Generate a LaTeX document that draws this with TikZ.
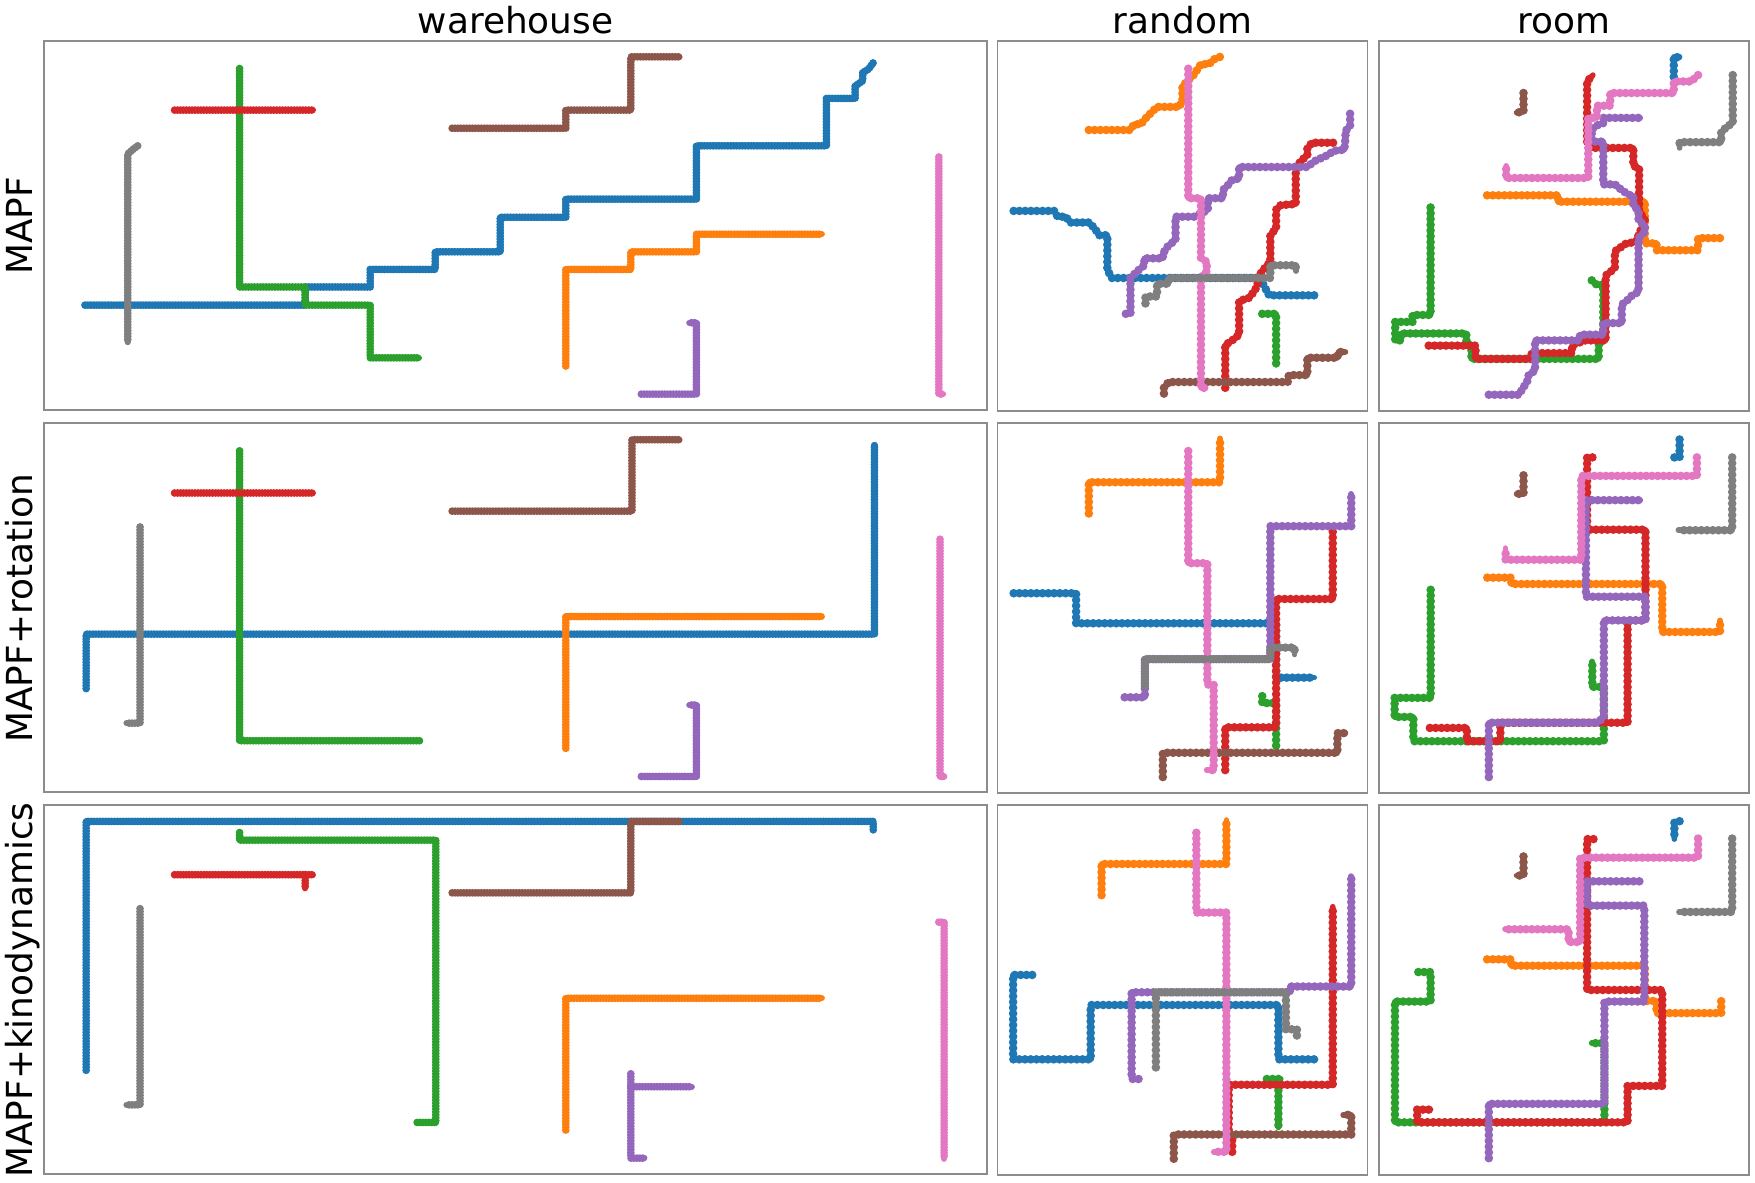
\documentclass[tikz,border=0pt]{standalone}
\usepackage{fontspec}
\setmainfont{DejaVu Sans}
\usepackage{tikz}

\definecolor{tabblue}{HTML}{1F77B4}
\definecolor{taborange}{HTML}{FF7F0E}
\definecolor{tabgreen}{HTML}{2CA02C}
\definecolor{tabred}{HTML}{D62728}
\definecolor{tabpurple}{HTML}{9467BD}
\definecolor{tabbrown}{HTML}{8C564B}
\definecolor{tabpink}{HTML}{E377C2}
\definecolor{tabgray}{HTML}{7F7F7F}

\tikzset{
  wpath/.style={draw=#1, line width=2.2pt, line cap=round, line join=round,
    dash pattern=on 0pt off 0.83pt,
    preaction={draw=#1, line width=1.8pt, solid, line cap=round, line join=round}},
  gpath/.style={draw=#1, line width=2.45pt, line cap=round, line join=round,
    dash pattern=on 0pt off 1.64pt,
    preaction={draw=#1, line width=1.6pt, solid, line cap=round, line join=round}},
  frame/.style={draw=black!45, line width=0.5pt},
  label text/.style={font=\fontsize{10.2pt}{12pt}\selectfont, anchor=base, inner sep=0pt}
}

\begin{document}
\begin{tikzpicture}
\useasboundingbox (0,0) rectangle (17.55,11.82);

% Titles
\node[label text] (tw) at (5.155,11.49) {warehouse};
\node[label text] (tr) at (11.825,11.49) {random};
\node[label text] (tm) at (15.64,11.49) {room};
\node[label text, rotate=90] (l1) at (0.33,9.56) {MAPF};
\node[label text, rotate=90] (l2) at (0.33,5.737) {MAPF+rotation};
\node[label text, rotate=90] (l3) at (0.33,1.92) {MAPF+kinodynamics};

% warehouse, MAPF
\begin{scope}[shift={(0.44,11.41)}, x=0.05857cm, y=-0.05857cm]
  \draw[wpath=tabblue] (7,45.1) -- (44.6,45.1) -- (44.6,42) -- (55.7,42) -- (55.7,39) -- (66.8,39) -- (66.8,36) -- (77.9,36) -- (77.9,30.1) -- (89.1,30.1) -- (89.1,27) -- (111.4,27) -- (111.4,17.9) -- (133.6,17.9) -- (133.6,9.8) -- (138.5,9.8) -- (138.5,7.7) -- (139.8,6.8) -- (139.8,5.4) -- (140.8,4.8) -- (141.6,3.7);
  \draw[wpath=taborange] (89.1,55.5) -- (89.1,39) -- (100.2,39) -- (100.2,36) -- (111.4,36) -- (111.4,33) -- (132.8,33);
  \draw[wpath=tabgreen] (33.4,4.7) -- (33.4,42) -- (44.6,42) -- (44.6,45.1) -- (55.7,45.1) -- (55.7,54.1) -- (64,54.1);
  \draw[wpath=tabred] (22.3,11.8) -- (45.9,11.8);
  \draw[wpath=tabpurple] (102,60.3) -- (111.4,60.3) -- (111.4,48.1) -- (110.2,48.1);
  \draw[wpath=tabbrown] (69.7,14.9) -- (89.1,14.9) -- (89.1,11.8) -- (100.2,11.8) -- (100.2,2.7) -- (108.5,2.7);
  \draw[wpath=tabpink] (152.8,19.8) -- (152.8,60.3) -- (153.5,60.3);
  \draw[wpath=tabgray] (16,17.9) -- (15.2,18.5) -- (14.3,19.3) -- (14.3,51.4);
  \draw[frame] (0,0) rectangle (161,63);
\end{scope}

% warehouse, MAPF+rotation
\begin{scope}[shift={(0.44,7.587)}, x=0.05857cm, y=-0.05857cm]
  \draw[wpath=tabblue] (7.2,45.3) -- (7.2,36) -- (141.8,36) -- (141.8,3.7);
  \draw[wpath=taborange] (89.1,55.5) -- (89.1,33) -- (132.8,33);
  \draw[wpath=tabgreen] (33.4,4.7) -- (33.4,54.2) -- (64.2,54.2);
  \draw[wpath=tabred] (22.3,11.9) -- (45.9,11.9);
  \draw[wpath=tabpurple] (102,60.3) -- (111.4,60.3) -- (111.4,48.1) -- (110.2,48.1);
  \draw[wpath=tabbrown] (69.7,15) -- (100.4,15) -- (100.4,2.8) -- (108.5,2.8);
  \draw[wpath=tabpink] (153,19.8) -- (153,60.3) -- (153.7,60.3);
  \draw[wpath=tabgray] (16.4,17.7) -- (16.4,51.2) -- (14.1,51.2);
  \draw[frame] (0,0) rectangle (161,63);
\end{scope}

% warehouse, MAPF+kinodynamics
\begin{scope}[shift={(0.44,3.77)}, x=0.05857cm, y=-0.05857cm]
  \draw[wpath=tabblue] (7.2,45.3) -- (7.2,2.8) -- (141.6,2.8) -- (141.6,4.3);
  \draw[wpath=taborange] (89.1,55.5) -- (89.1,33) -- (132.8,33);
  \draw[wpath=tabgreen] (33.4,4.7) -- (33.4,6) -- (66.9,6) -- (66.9,54.2) -- (63.7,54.2);
  \draw[wpath=tabred] (22.3,11.9) -- (45.9,11.9) (44.6,11.9) -- (44.6,14.2);
  \draw[wpath=tabpurple] (100.2,45.9) -- (100.2,60.3) -- (102.5,60.3) (100.2,48.1) -- (110.6,48.1);
  \draw[wpath=tabbrown] (69.7,15) -- (100.2,15) -- (100.2,2.8) -- (108.5,2.8);
  \draw[wpath=tabpink] (152.8,20) -- (153.7,20) -- (153.7,60.4);
  \draw[wpath=tabgray] (16.4,17.7) -- (16.4,51.2) -- (14.1,51.2);
  \draw[frame] (0,0) rectangle (161,63);
\end{scope}

% random, MAPF
\begin{scope}[shift={(9.975,11.41)}, x=0.1156cm, y=-0.1156cm]
  \draw[gpath=tabblue] (1.4,14.7) -- (4.9,14.7) -- (5.2,15.2) -- (5.9,15.2) -- (6.3,15.7) -- (7.9,15.7) -- (8.4,16.2) -- (8.8,16.8) -- (9.5,16.8) -- (9.5,19.8) -- (9.9,20.5) -- (22.8,20.5) -- (23,21.1) -- (23.5,22) -- (27.4,22);
  \draw[gpath=taborange] (7.9,7.7) -- (11.5,7.7) -- (11.8,7.2) -- (12.4,7.2) -- (12.8,6.7) -- (13.3,6.2) -- (13.8,5.7) -- (15.7,5.7) -- (16,5.2) -- (16,3.9) -- (17,2.9) -- (17.6,2) -- (18.3,2) -- (18.7,1.6) -- (19.3,1.35);
  \draw[gpath=tabgreen] (22.9,23.6) -- (24.1,23.6) -- (24.1,28);
  \draw[gpath=tabred] (19.7,30) -- (19.7,26.3) -- (20.3,25.9) -- (20.9,25.4) -- (20.9,22.5) -- (21.8,22.2) -- (22.3,21.5) -- (22.5,21) -- (22.5,20.5) -- (22.9,19.9) -- (23.6,19.1) -- (23.6,16.8) -- (24.1,16.2) -- (24.1,14.6) -- (24.5,14.2) -- (25.8,14.1) -- (25.8,11.2) -- (26.2,10.4) -- (26.8,9.9) -- (26.8,9.3) -- (27.2,8.8) -- (29.1,8.8);
  \draw[gpath=tabpurple] (11.1,23.6) -- (11.5,23.6) -- (11.5,20.5) -- (12.1,19.9) -- (12.7,19.4) -- (12.7,18.8) -- (14.3,18.8) -- (14.3,18.4) -- (14.7,17.8) -- (15.4,17.2) -- (15.4,15.2) -- (17.1,15.2) -- (18.2,14.6) -- (18.2,13.6) -- (19.5,13.6) -- (19.5,12.9) -- (20,12.4) -- (20.3,12) -- (20.9,11.9) -- (20.9,10.9) -- (26.8,10.9) -- (27.4,10.4) -- (28.5,9.9) -- (29.1,9.5) -- (30,9.4) -- (30.1,8.4) -- (30.1,7.8) -- (30.5,7.3) -- (30.5,6.2);
  \draw[gpath=tabbrown] (14.4,30.5) -- (14.4,30) -- (14.8,29.5) -- (25.1,29.5) -- (25.2,28.9) -- (26.8,28.9) -- (26.8,27.4) -- (29.4,27.4) -- (29.5,26.9) -- (30.1,26.9);
  \draw[gpath=tabpink] (16.5,2.4) -- (16.5,13.6) -- (17.6,13.6) -- (17.6,18.8) -- (18.1,19.1) -- (18.1,19.9) -- (17.6,20.5) -- (17.6,30) -- (18,30);
  \draw[gpath=tabgray] (12.8,22.7) -- (12.8,22.1) -- (13.8,22.1) -- (13.8,21) -- (14.8,21) -- (14.8,20.5) -- (23.6,20.5) -- (23.6,19.4) -- (25.8,19.4) -- (25.8,19.9);
  \draw[frame] (0,0) rectangle (32,32);
\end{scope}

% random, MAPF+rotation
\begin{scope}[shift={(9.975,7.587)}, x=0.1156cm, y=-0.1156cm]
  \draw[gpath=tabblue] (1.4,14.7) -- (6.8,14.7) -- (6.8,17.3) -- (24.1,17.3) -- (24.1,22) -- (27.4,22);
  \draw[gpath=taborange] (7.9,7.8) -- (7.9,5.1) -- (19.25,5.1) -- (19.25,1.3);
  \draw[gpath=tabgreen] (22.9,23.6) -- (22.9,24.2) -- (24.1,24.2) -- (24.1,27.9);
  \draw[gpath=tabred] (19.7,30) -- (19.7,26.3) -- (24.1,26.3) -- (24.1,15.2) -- (29,15.2) -- (29,9.2);
  \draw[gpath=tabpurple] (11,23.7) -- (12.75,23.7) -- (12.75,20.4) -- (23.6,20.4) -- (23.6,8.9) -- (30.6,8.9) -- (30.6,6.1);
  \draw[gpath=tabbrown] (14.3,30.6) -- (14.3,28.5) -- (29.4,28.5) -- (29.4,26.8) -- (30.1,26.8);
  \draw[gpath=tabpink] (16.5,2.4) -- (16.5,12.1) -- (18.15,12.1) -- (18.15,22.6) -- (18.7,22.6) -- (18.7,30) -- (18.1,30);
  \draw[gpath=tabgray] (12.75,22.7) -- (12.75,20.4) -- (23.6,20.4) -- (23.6,19.4) -- (25.7,19.4) -- (25.7,20);
  \draw[frame] (0,0) rectangle (32,32);
\end{scope}

% random, MAPF+kinodynamics
\begin{scope}[shift={(9.975,3.77)}, x=0.1156cm, y=-0.1156cm]
  \draw[gpath=tabblue] (3,14.7) -- (1.35,14.7) -- (1.35,22) -- (8.06,22) -- (8.06,17.3) -- (24.3,17.3) -- (24.3,22) -- (27.5,22);
  \draw[gpath=taborange] (9,7.8) -- (9,5.1) -- (19.8,5.1) -- (19.8,1.3);
  \draw[gpath=tabgreen] (23.3,23.7) -- (24.5,23.7) (24.3,23.7) -- (24.3,27.9);
  \draw[gpath=tabred] (20.3,30) -- (20.3,28.9) -- (20,28.5) -- (20,24.2) -- (29,24.2) -- (29,8.8);
  \draw[gpath=tabpurple] (12.2,23.7) -- (11.6,23.7) -- (11.6,16.2) -- (25.3,16.2) -- (25.3,15.7) -- (30.6,15.7) -- (30.6,6.15);
  \draw[gpath=tabbrown] (15.25,30.6) -- (15.25,28.5) -- (30.6,28.5) -- (30.6,26.8) -- (29.9,26.8);
  \draw[gpath=tabpink] (17.2,2.4) -- (17.2,9.3) -- (19.8,9.3) -- (19.8,30) -- (18.7,30);
  \draw[gpath=tabgray] (13.7,22.7) -- (13.7,16.2) -- (24.95,16.2) -- (24.95,19.4) -- (25.9,19.4) -- (25.9,20);
  \draw[frame] (0,0) rectangle (32,32);
\end{scope}

% room, MAPF
\begin{scope}[shift={(13.79,11.41)}, x=0.1156cm, y=-0.1156cm]
  \draw[gpath=tabblue] (25.5,3.1) -- (25.5,1.4) -- (26,1.4);
  \draw[gpath=taborange] (9.35,13.35) -- (15.5,13.35) -- (15.5,13.9) -- (23,13.9) -- (23,17.5) -- (24,17.5) -- (24,18.1) -- (27.6,18.1) -- (27.6,17.05) -- (29.6,17.05);
  \draw[gpath=tabgreen] (4.46,14.4) -- (4.46,23.7) -- (2.9,23.7) -- (2.9,24.3) -- (1.4,24.3) -- (1.4,25.9) -- (1.9,25.9) -- (1.9,25.3) -- (7.55,25.3) -- (7.55,25.9) -- (8,26.45) -- (8,27.5) -- (19,27.5) -- (19,26.3) -- (19.4,25.9) -- (19.4,21.1) -- (18.85,21.1) -- (18.4,20.7);
  \draw[gpath=tabred] (4.3,26.35) -- (8.35,26.35) -- (8.35,27.5) -- (13.2,27.5) -- (13.2,27) -- (16.7,27) -- (16.7,26.3) -- (17.85,25.9) -- (19.6,25.9) -- (19.6,20.3) -- (20.4,19.65) -- (20.4,18.2) -- (21.4,17.5) -- (22.2,17.4) -- (23,15.5) -- (22.5,14.7) -- (22.5,11) -- (22,10.8) -- (22,9.25) -- (18.4,9.25) -- (18,8.7) -- (18,3.5) -- (18.5,2.95);
  \draw[gpath=tabpurple] (9.5,30.6) -- (12.1,30.6) -- (12.4,30.1) -- (12.8,29.5) -- (12.95,28.9) -- (13.5,28.5) -- (13.5,25.9) -- (17.3,25.9) -- (17.4,25.4) -- (19.4,25.4) -- (19.4,24.4) -- (21,24.4) -- (21,22.8) -- (21.4,22.5) -- (21.9,22) -- (22.45,21.7) -- (22.45,17.05) -- (23,16.5) -- (23,16) -- (22.45,15.5) -- (22.45,14.7) -- (22,14.2) -- (22,13.4) -- (21.6,13.3) -- (21,12.9) -- (20.4,12.4) -- (19.4,12.4) -- (19.4,8.7) -- (18.4,8.7) -- (18.4,7.65) -- (18.85,7.3) -- (19.4,7.1) -- (19.4,6.65) -- (22.6,6.65);
  \draw[gpath=tabbrown] (12.5,4.5) -- (12.5,6.1) -- (11.9,6.2);
  \draw[gpath=tabpink] (27.6,2.95) -- (27,3.5) -- (25.5,3.5) -- (25.5,4.5) -- (20,4.5) -- (20,5.6) -- (18.85,5.6) -- (18.85,6.65) -- (18.1,6.65) -- (18.1,11.85) -- (11,11.85) -- (11,10.8);
  \draw[gpath=tabgray] (30.6,2.95) -- (30.6,7.1) -- (30.1,7.4) -- (29.6,7.9) -- (29.6,8.75) -- (26,8.75) -- (26,9.25);
  \draw[frame] (0,0) rectangle (32,32);
\end{scope}

% room, MAPF+rotation
\begin{scope}[shift={(13.79,7.587)}, x=0.1156cm, y=-0.1156cm]
  \draw[gpath=tabblue] (26,1.4) -- (26,2.95) -- (25.45,2.95);
  \draw[gpath=taborange] (9.37,13.35) -- (11.45,13.35) -- (11.45,13.9) -- (24.5,13.9) -- (24.5,18.05) -- (29.5,18.05) -- (29.5,17.05);
  \draw[gpath=tabgreen] (4.47,14.4) -- (4.47,23.75) -- (1.35,23.75) -- (1.35,25.4) -- (2.97,25.4) -- (2.97,27.5) -- (19.45,27.5) -- (19.45,22.8) -- (18.45,22.8) -- (18.45,20.6);
  \draw[gpath=tabred] (4.4,26.35) -- (7.6,26.35) -- (7.6,27.5) -- (10.5,27.5) -- (10.5,25.9) -- (21.5,25.9) -- (21.5,17.05) -- (23.05,17.05) -- (23.05,9.2) -- (18,9.2) -- (18,2.95) -- (18.5,2.95);
  \draw[gpath=tabpurple] (9.5,30.6) -- (9.5,25.9) -- (18.9,25.9) -- (19.45,25.4) -- (19.45,17.05) -- (23.05,17.05) -- (23.05,15) -- (17.9,15) -- (17.9,6.65) -- (22.6,6.65);
  \draw[gpath=tabbrown] (12.5,4.5) -- (12.5,6.1) -- (11.9,6.1);
  \draw[gpath=tabpink] (27.5,2.95) -- (27.5,4.55) -- (17.5,4.55) -- (17.5,11.8) -- (10.95,11.8) -- (10.95,10.8);
  \draw[gpath=tabgray] (30.55,2.95) -- (30.55,9.25) -- (25.9,9.25);
  \draw[frame] (0,0) rectangle (32,32);
\end{scope}

% room, MAPF+kinodynamics
\begin{scope}[shift={(13.79,3.77)}, x=0.1156cm, y=-0.1156cm]
  \draw[gpath=tabblue] (26,1.4) -- (25.55,1.5) -- (25.55,2.95);
  \draw[gpath=taborange] (9.35,13.35) -- (11.45,13.35) -- (11.45,13.9) -- (23,13.9) -- (23,16.95) -- (24,16.95) -- (24,18) -- (29.6,18) -- (29.6,16.9);
  \draw[gpath=tabgreen] (3.4,14.45) -- (4.46,14.45) -- (4.46,17) -- (1.38,17) -- (1.38,27.45) -- (19.5,27.45) -- (19.5,20.6) -- (18.4,20.6);
  \draw[gpath=tabred] (18.55,2.95) -- (18,2.95) -- (18,16) -- (24.5,16) -- (24.5,24.3) -- (21.5,24.3) -- (21.5,27.45) -- (3.3,27.45) -- (3.3,26.35) -- (4.46,26.35);
  \draw[gpath=tabpurple] (9.5,30.55) -- (9.5,25.85) -- (19.5,25.85) -- (19.5,17) -- (22.95,17) -- (22.95,8.7) -- (18,8.7) -- (18,6.6) -- (22.6,6.6);
  \draw[gpath=tabbrown] (12.5,4.45) -- (12.5,6.1) -- (11.9,6.1);
  \draw[gpath=tabpink] (27.6,2.9) -- (27.6,4.55) -- (17.4,4.55) -- (17.4,11.85) -- (16.4,11.85) -- (16.4,10.75) -- (10.9,10.75);
  \draw[gpath=tabgray] (30.55,2.9) -- (30.55,9.25) -- (25.95,9.25);
  \draw[frame] (0,0) rectangle (32,32);
\end{scope}

\end{tikzpicture}
\end{document}
